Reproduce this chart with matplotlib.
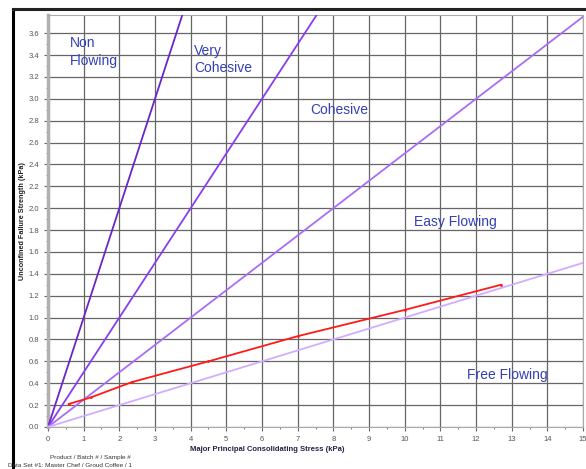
import numpy as np
import matplotlib.pyplot as plt
from matplotlib.lines import Line2D

plt.rcParams['font.family'] = ['Liberation Sans', 'DejaVu Sans']

# flow function boundaries (ff = sigma1 / sigma_c)
ff_values = [1, 2, 4, 10]
ff_colors = ['#6a26c9', '#8a3cef', '#a96cf6', '#d2adff']

# measured flow function (Master Chef / Groud Coffee)
sigma1 = [0.58, 1.2, 2.35, 4.5, 7.0, 10.0, 12.7]
sigma_c = [0.21, 0.27, 0.41, 0.60, 0.83, 1.07, 1.30]

region_labels = ['Non\nFlowing', 'Very\nCohesive', 'Cohesive', 'Easy Flowing', 'Free Flowing']
region_x = [0.62, 4.1, 7.35, 10.25, 11.75]
region_y = [3.57, 3.50, 2.96, 1.94, 0.54]

xmax = 15
ymax = 3.766

fig = plt.figure(figsize=(5.86, 4.69), dpi=100)
ax = fig.add_axes([0.0819, 0.0896, 0.913, 0.8784])

x = np.array([0, xmax])
for ff, c in zip(ff_values, ff_colors):
    ax.plot(x, x / ff, color=c, lw=1.3, zorder=3)

ax.plot(sigma1, sigma_c, color='#ff1a1a', lw=1.3, marker='.', markersize=2, zorder=4)

for lab, lx, ly in zip(region_labels, region_x, region_y):
    ax.text(lx, ly, lab, color='#3340b5', fontsize=10, va='top', ha='left',
            linespacing=1.3, zorder=5)

ax.set_xlim(0, xmax)
ax.set_ylim(0, ymax)
ax.set_xticks(np.arange(0, 16, 1))
ax.set_yticks(np.arange(0, 3.61, 0.2))
ax.set_xticks(np.arange(0, 15.1, 0.5), minor=True)
ax.set_yticks(np.arange(0, 3.7, 0.1), minor=True)
ax.set_yticklabels([f'{v:.1f}' for v in np.arange(0, 3.61, 0.2)])
ax.tick_params(labelsize=5.5, labelcolor='#555555', color='#666666', length=3, width=0.8)
ax.tick_params(which='minor', length=1.5, color='#666666')
ax.grid(True, which='major', color='#666666', lw=0.9, zorder=1)

for s in ['top', 'right', 'bottom']:
    ax.spines[s].set_color('#aaaaaa')
ax.spines['left'].set_color('#b0b0b0')
ax.spines['left'].set_linewidth(2.5)

ax.set_xlabel('Major Principal Consolidating Stress (kPa)', fontsize=5.5,
              weight='bold', color='#222244')
ax.xaxis.set_label_coords(0.41, -0.045)
ax.set_ylabel('Unconfined Failure Strength (kPa)', fontsize=5.2,
              weight='bold', color='#222222')
ax.yaxis.set_label_coords(-0.042, 0.5)

fig.text(90 / 586, 1 - 457 / 469, 'Product / Batch # / Sample #', fontsize=4.6,
         ha='center', va='center', color='#333333')
fig.text(8 / 586, 1 - 465 / 469, 'Data Set #1: Master Chef / Groud Coffee / 1',
         fontsize=4.6, ha='left', va='center', color='#333333')

# outer frame (left and top)
fig.add_artist(Line2D([13 / 586, 13 / 586], [0, 1 - 9 / 469], color='black', lw=2.2))
fig.add_artist(Line2D([13 / 586, 1], [1 - 9 / 469, 1 - 9 / 469], color='#222222', lw=2.2))

fig.savefig('out.png', dpi=100)
